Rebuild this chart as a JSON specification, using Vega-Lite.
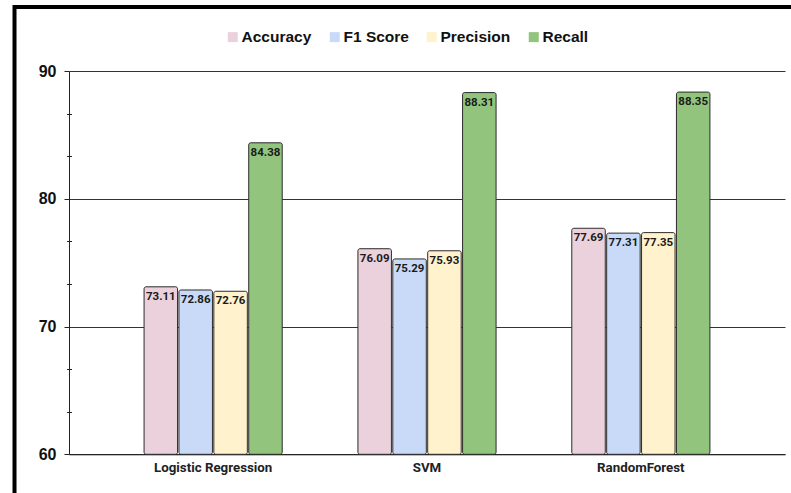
{
  "$schema": "https://vega.github.io/schema/vega-lite/v6.json",
  "autosize": {"type": "none"},
  "padding": {"left": 69, "top": 71, "right": 6, "bottom": 38.7},
  "width": 716,
  "height": 383.3,
  "background": "white",
  "config": {
    "view": {"stroke": null},
    "axis": {"labelFont": "Liberation Sans", "labelFontWeight": "bold"}
  },
  "data": {
    "values": [
      {"model": "Logistic Regression", "metric": "Accuracy", "score": 73.11},
      {"model": "Logistic Regression", "metric": "F1 Score", "score": 72.86},
      {"model": "Logistic Regression", "metric": "Precision", "score": 72.76},
      {"model": "Logistic Regression", "metric": "Recall", "score": 84.38},
      {"model": "SVM", "metric": "Accuracy", "score": 76.09},
      {"model": "SVM", "metric": "F1 Score", "score": 75.29},
      {"model": "SVM", "metric": "Precision", "score": 75.93},
      {"model": "SVM", "metric": "Recall", "score": 88.31},
      {"model": "RandomForest", "metric": "Accuracy", "score": 77.69},
      {"model": "RandomForest", "metric": "F1 Score", "score": 77.31},
      {"model": "RandomForest", "metric": "Precision", "score": 77.35},
      {"model": "RandomForest", "metric": "Recall", "score": 88.35}
    ]
  },
  "resolve": {"scale": {"x": "independent"}, "axis": {"y": "independent", "x": "independent"}},
  "layer": [
    {
      "resolve": {"axis": {"y": "independent"}},
      "encoding": {
        "x": {
          "field": "model",
          "type": "nominal",
          "sort": ["Logistic Regression", "SVM", "RandomForest"],
          "title": null,
          "scale": {"paddingInner": 0.354, "paddingOuter": 0.351},
          "axis": {
            "domainColor": "#222",
            "ticks": false,
            "tickSize": 0,
            "labelAngle": 0,
            "labelFont": "Roboto",
            "labelFontSize": 13.3,
            "labelFontWeight": "bold",
            "labelColor": "#222",
            "labelPadding": 6
          }
        },
        "xOffset": {
          "field": "metric",
          "type": "nominal",
          "scale": {"paddingInner": 0.04, "paddingOuter": 0}
        }
      },
      "layer": [
        {
          "mark": {
            "type": "bar",
            "stroke": "#2b2b2b",
            "strokeWidth": 1,
            "cornerRadiusEnd": 2
          },
          "encoding": {
            "y": {
              "field": "score",
              "type": "quantitative",
              "title": null,
              "scale": {"domain": [60, 90], "nice": false, "zero": false},
              "axis": {
                "values": [60, 70, 80, 90],
                "grid": true,
                "gridColor": "#333",
                "gridWidth": 1,
                "gridOpacity": 1,
                "domainColor": "#222",
                "tickColor": "#222",
                "tickSize": 5,
                "labelPadding": 8,
                "labelFont": "Liberation Sans",
                "labelFontSize": 16,
                "labelFontWeight": "bold",
                "labelColor": "#111"
              }
            },
            "y2": {"datum": 60},
            "color": {
              "field": "metric",
              "type": "nominal",
              "scale": {
                "domain": ["Accuracy", "F1 Score", "Precision", "Recall"],
                "range": ["#EAD1DC", "#C9DAF8", "#FFF2CC", "#93C47D"]
              },
              "legend": {
                "title": null,
                "orient": "none",
                "direction": "horizontal",
                "legendX": 156,
                "legendY": -42,
                "padding": 0,
                "symbolType": "square",
                "symbolSize": 100,
                "symbolStrokeWidth": 0,
                "symbolOpacity": 1,
                "labelFont": "Liberation Sans",
                "labelFontSize": 15.5,
                "labelFontWeight": "bold",
                "labelColor": "#111",
                "labelOffset": 1,
                "columnPadding": 15
              }
            }
          }
        },
        {
          "mark": {
            "type": "text",
            "baseline": "top",
            "dy": 4,
            "font": "Roboto",
            "fontSize": 11.5,
            "fontWeight": "bold",
            "color": "#1a1a1a"
          },
          "encoding": {
            "y": {
              "field": "score",
              "type": "quantitative",
              "scale": {"domain": [60, 90], "nice": false, "zero": false},
              "axis": {
                "orient": "left",
                "values": [63.333, 66.667, 73.333, 76.667, 83.333, 86.667],
                "offset": -2.5,
                "domain": false,
                "grid": false,
                "labels": false,
                "title": null,
                "tickSize": 5,
                "tickColor": "#222"
              }
            },
            "text": {"field": "score", "type": "quantitative", "format": ".2f"}
          }
        }
      ]
    },
    {
      "data": {"values": [{}]},
      "mark": {
        "type": "rect",
        "fill": null,
        "stroke": "#000",
        "strokeWidth": 4,
        "clip": false
      },
      "encoding": {
        "x": {
          "datum": -0.0761,
          "type": "quantitative",
          "scale": {"domain": [0, 1], "nice": false, "zero": false},
          "axis": null
        },
        "x2": {"datum": 1.2},
        "y": {
          "datum": 95,
          "type": "quantitative",
          "scale": {"domain": [60, 90], "nice": false, "zero": false},
          "axis": null
        },
        "y2": {"datum": 45}
      }
    }
  ]
}
